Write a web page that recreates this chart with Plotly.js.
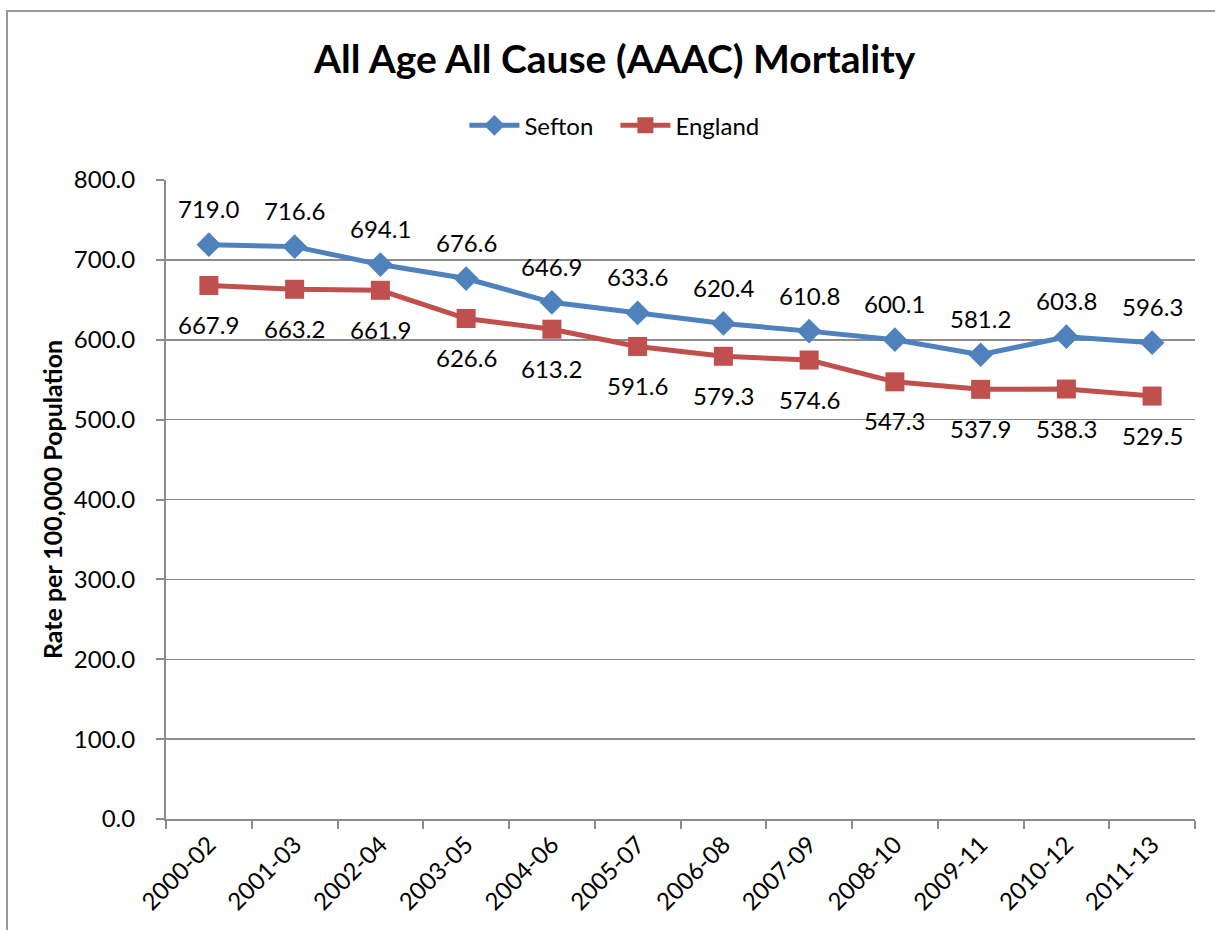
<!DOCTYPE html>
<html>
<head>
<meta charset="utf-8">
<script src="https://cdn.plot.ly/plotly-3.0.1.min.js"></script>
<style>
  html, body { margin: 0; padding: 0; background: #ffffff; overflow: hidden; }
  #frame {
    position: absolute;
    left: 6px;
    top: 10px;
    width: 1400px;
    height: 1000px;
    border-left: 2px solid #999999;
    border-top: 2px solid #999999;
    box-sizing: border-box;
    pointer-events: none;
  }
  #chart { width: 1215px; height: 930px; }
</style>
</head>
<body>
<div id="chart"></div>
<div id="frame"></div>
<script>
  const PERIODS = ["2000-02", "2001-03", "2002-04", "2003-05", "2004-06", "2005-07",
    "2006-08", "2007-09", "2008-10", "2009-11", "2010-12", "2011-13"];
  const SEFTON = [719.0, 716.6, 694.1, 676.6, 646.9, 633.6, 620.4, 610.8, 600.1, 581.2, 603.8, 596.3];
  const ENGLAND = [667.9, 663.2, 661.9, 626.6, 613.2, 591.6, 579.3, 574.6, 547.3, 537.9, 538.3, 529.5];
  const Y_TICKS = [0, 100, 200, 300, 400, 500, 600, 700, 800];

  const FONT = "Lato, 'Open Sans', sans-serif";
  const SEFTON_COLOR = "#4f81bd";
  const ENGLAND_COLOR = "#c0504d";
  const GRID = "#8c8c8c";

  function makeTrace(name, values, color, symbol, size) {
    return {
      x: PERIODS,
      y: values,
      name: name,
      type: "scatter",
      mode: "lines+markers",
      line: { color: color, width: 5 },
      marker: { color: color, symbol: symbol, size: size },
      hoverinfo: "skip"
    };
  }

  function makeLabels(values, shift) {
    return values.map((v, i) => ({
      x: PERIODS[i],
      y: v,
      xref: "x",
      yref: "y",
      text: v.toFixed(1),
      showarrow: false,
      yshift: shift,
      font: { family: FONT, size: 24, color: "#000000" }
    }));
  }

  const traces = [
    makeTrace("Sefton", SEFTON, SEFTON_COLOR, "diamond", 19),
    makeTrace("England", ENGLAND, ENGLAND_COLOR, "square", 19)
  ];

  const layout = {
    width: 1215,
    height: 930,
    margin: { l: 166, r: 20, t: 180, b: 111 },
    paper_bgcolor: "#ffffff",
    plot_bgcolor: "#ffffff",
    font: { family: FONT, color: "#000000", size: 24 },
    showlegend: true,
    title: {
      text: "<b>All Age All Cause (AAAC) Mortality</b>",
      font: { family: FONT, size: 39, color: "#000000" },
      xref: "paper",
      x: 0.436,
      xanchor: "center",
      yref: "container",
      y: 0.936,
      yanchor: "middle"
    },
    legend: {
      orientation: "h",
      x: 0.29,
      xanchor: "left",
      y: 1.085,
      yanchor: "middle",
      font: { family: FONT, size: 24 },
      entrywidth: 86,
      entrywidthmode: "pixels",
      itemwidth: 50,
      tracegroupgap: 0
    },
    xaxis: {
      type: "category",
      range: [-0.5, PERIODS.length - 0.5],
      tickson: "boundaries",
      ticks: "outside",
      ticklen: 8,
      tickwidth: 2,
      tickcolor: GRID,
      showline: true,
      linecolor: GRID,
      linewidth: 2,
      showgrid: false,
      tickangle: -45,
      tickfont: { family: FONT, size: 24 },
      fixedrange: true
    },
    yaxis: {
      range: [0, 800],
      tickvals: Y_TICKS,
      ticktext: Y_TICKS.map((v) => v.toFixed(1)),
      ticks: "outside",
      ticklen: 8,
      tickwidth: 2,
      tickcolor: GRID,
      ticklabelstandoff: 16,
      showline: true,
      linecolor: GRID,
      linewidth: 2,
      showgrid: true,
      gridcolor: GRID,
      gridwidth: 1.5,
      zeroline: false,
      tickfont: { family: FONT, size: 24 },
      title: {
        text: "<b>Rate per 100,000 Population</b>",
        font: { family: FONT, size: 25 },
        standoff: 4
      },
      fixedrange: true
    },
    annotations: makeLabels(SEFTON, 36).concat(makeLabels(ENGLAND, -39))
  };

  Plotly.newPlot("chart", traces, layout, { displayModeBar: false, staticPlot: true });
</script>
</body>
</html>
